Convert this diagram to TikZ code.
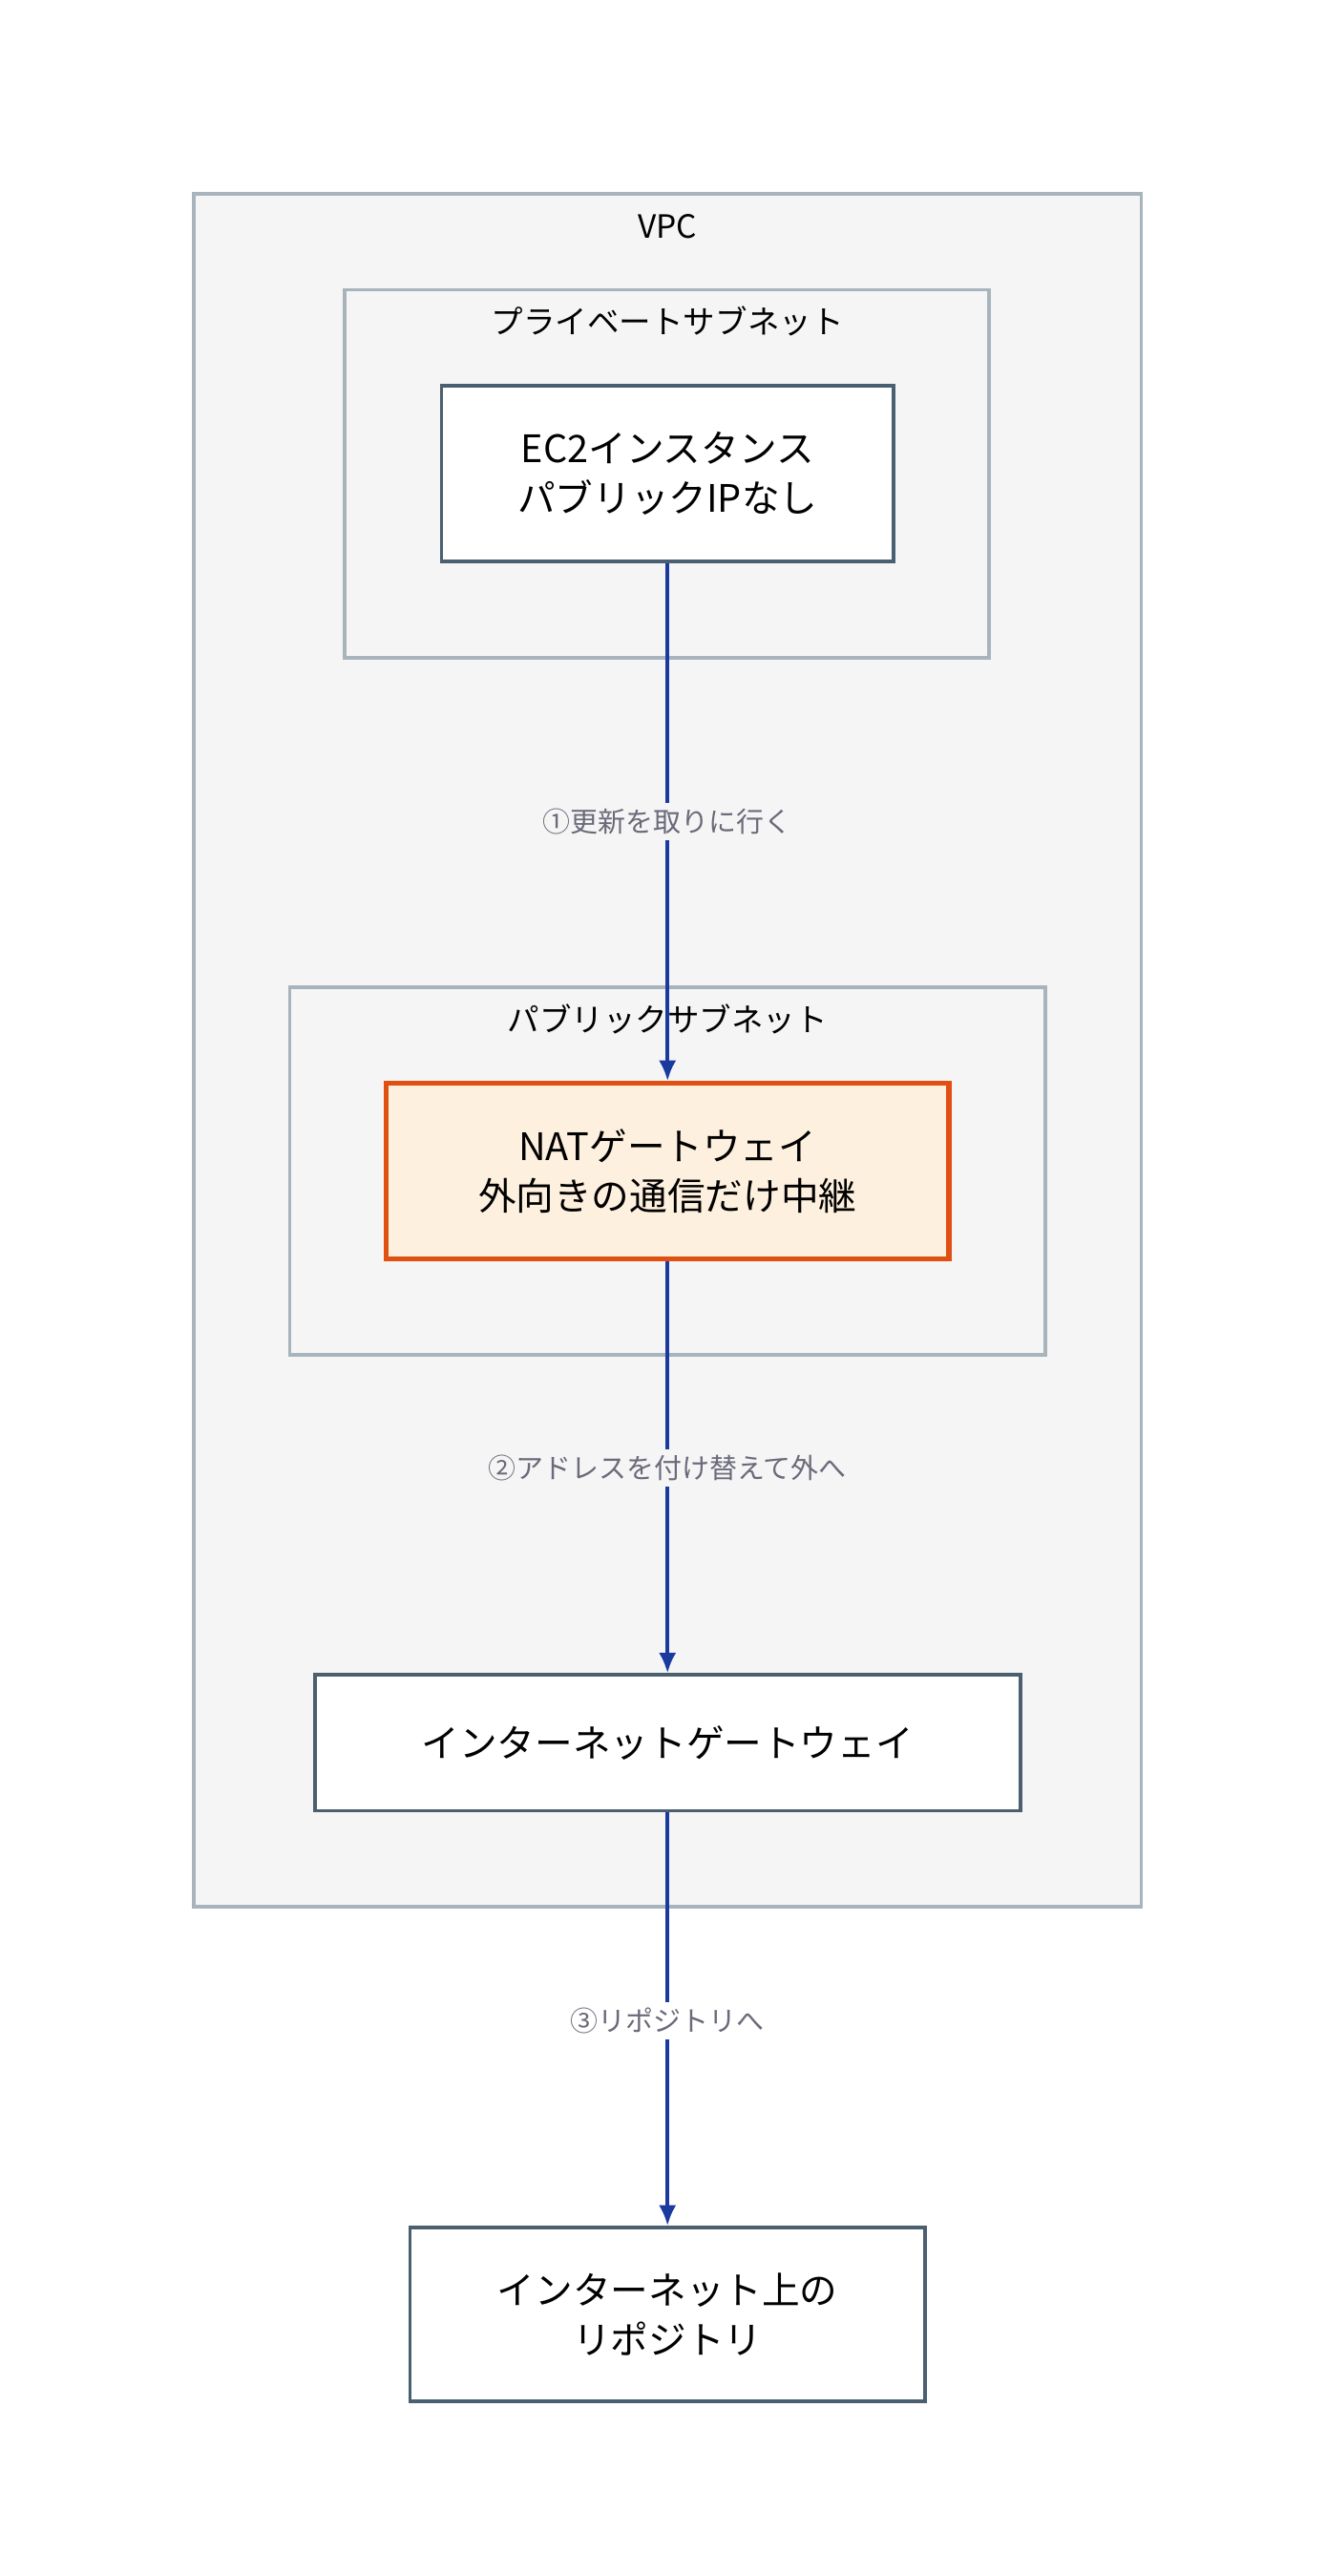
\documentclass[tikz,border=0pt]{standalone}
\usepackage{fontspec}
\setmainfont{Noto Sans CJK JP}
\usetikzlibrary{arrows.meta,positioning}
\definecolor{boxline}{HTML}{4A6070}
\definecolor{subline}{HTML}{A8B4BC}
\definecolor{zonefill}{HTML}{F5F5F5}
\definecolor{flow}{HTML}{1A3AA0}
\definecolor{natfill}{HTML}{FEF0DE}
\definecolor{natline}{HTML}{E05010}
\definecolor{labtext}{HTML}{6A6A7A}
\tikzset{
  zone/.style={draw=subline, line width=1.2pt, fill=zonefill},
  box/.style={draw=boxline, line width=1.2pt, fill=white, align=center, font=\fontsize{13}{17}\selectfont, inner sep=0pt},
  zonelabel/.style={font=\fontsize{11}{13}\selectfont},
  flowlabel/.style={font=\fontsize{9.5}{12}\selectfont, text=labtext, fill=zonefill, inner sep=2pt},
  arr/.style={draw=flow, line width=1.2pt, -{Latex[length=7pt,width=6pt]}}
}
\begin{document}
\begin{tikzpicture}[x=0.02cm, y=-0.02cm]
  \useasboundingbox[fill=white] (0,0) rectangle (800,1555);
  % zones
  \draw[zone] (117,117) rectangle (689,1151);
  \node[zonelabel] (vpclabel) at (403,137) {VPC};
  \draw[zone] (208,175) rectangle (597,397);
  \node[zonelabel] (privlabel) at (403,194) {プライベートサブネット};
  \draw[zone] (175,596) rectangle (631,818);
  \node[zonelabel] (publabel) at (403,615) {パブリックサブネット};
  % boxes
  \node[box, minimum width=5.46cm, minimum height=2.12cm] (ec2) at (403,286) {EC2インスタンス\\パブリックIPなし};
  \node[box, draw=natline, line width=1.8pt, fill=natfill, minimum width=6.8cm, minimum height=2.12cm] (nat) at (403,707) {NATゲートウェイ\\外向きの通信だけ中継};
  \node[box, minimum width=8.52cm, minimum height=1.64cm] (igw) at (403,1052) {インターネットゲートウェイ};
  \node[box, minimum width=6.22cm, minimum height=2.1cm] (repo) at (403,1397) {インターネット上の\\リポジトリ};
  % flows
  \draw[arr] (ec2) -- (nat);
  \node[flowlabel] (l1) at (403,496) {①更新を取りに行く};
  \draw[arr] (nat) -- (igw);
  \node[flowlabel] (l2) at (403,886) {②アドレスを付け替えて外へ};
  \draw[arr] (igw) -- (repo);
  \node[flowlabel, fill=white] (l3) at (403,1220) {③リポジトリへ};
\end{tikzpicture}
\end{document}
